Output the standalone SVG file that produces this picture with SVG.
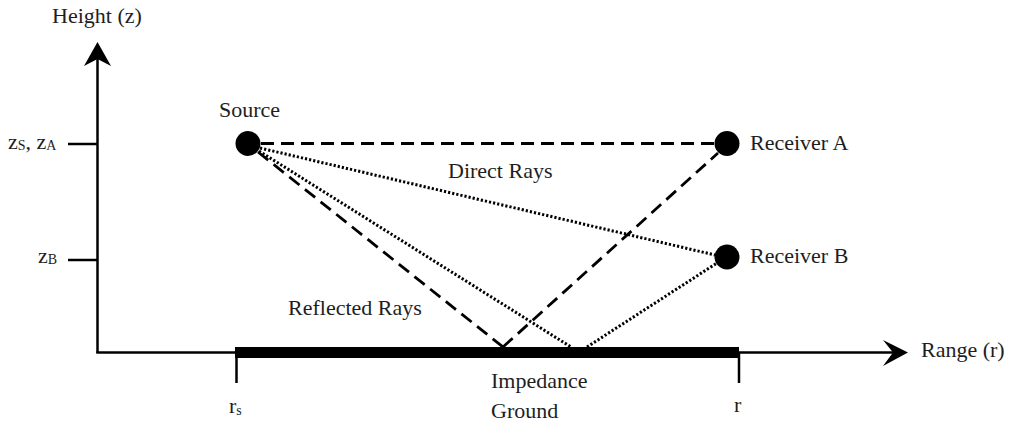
<svg xmlns="http://www.w3.org/2000/svg" width="1017" height="428" viewBox="0 0 1017 428">
<style>
text { font-family: "Liberation Serif", "Times New Roman", serif; font-size: 22px; fill: #1e1e1e; }
.sub { font-size: 14px; }
.axis { stroke: #000; stroke-width: 2.5; fill: none; }
.dash { stroke: #000; stroke-width: 2.8; stroke-dasharray: 13 7; fill: none; }
.dot { stroke: #000; stroke-width: 3; stroke-dasharray: 2.2 2; fill: none; }
.node { fill: #000; }
</style>
<rect width="1017" height="428" fill="#fff"/>
<g id="axes">
  <line class="axis" x1="97.5" y1="55" x2="97.5" y2="353"/>
  <line class="axis" x1="96.3" y1="352.5" x2="898" y2="352.5"/>
  <polygon points="97.5,42 84,66 97.5,59 111,66" fill="#000"/>
  <polygon points="908,352.5 883,340 893,352.5 883,366" fill="#000"/>
  <line class="axis" x1="68" y1="144" x2="97.5" y2="144"/>
  <line class="axis" x1="68" y1="260" x2="97.5" y2="260"/>
  <line class="axis" x1="236.5" y1="352" x2="236.5" y2="383"/>
  <line class="axis" x1="739" y1="352" x2="739" y2="383"/>
  <text x="52" y="23">Height (z)</text>
  <text x="921" y="357">Range (r)</text>
  <text x="8" y="149">z<tspan class="sub" dy="1">S</tspan><tspan dy="-1">, z</tspan><tspan class="sub" dy="1">A</tspan></text>
  <text x="38" y="263">z<tspan class="sub" dy="1">B</tspan></text>
  <text x="229" y="413">r<tspan class="sub" dy="2">s</tspan></text>
  <text x="734" y="412">r</text>
</g>
<g id="ground">
  <rect x="235" y="347" width="504" height="11" fill="#000"/>
  <text x="491" y="388">Impedance</text>
  <text x="491" y="418">Ground</text>
</g>
<g id="connectors">
  <line class="dash" x1="261" y1="143.5" x2="714" y2="143.5"/>
  <line class="dash" x1="258" y1="152" x2="503" y2="347"/>
  <line class="dash" x1="503" y1="347" x2="718" y2="153"/>
  <line class="dot" x1="260" y1="148" x2="715" y2="255"/>
  <line class="dot" x1="259" y1="151" x2="571" y2="347"/>
  <line class="dot" x1="587" y1="347" x2="717" y2="263"/>
  <text x="448" y="178">Direct Rays</text>
  <text x="288" y="315">Reflected Rays</text>
</g>
<g id="source">
  <circle class="node" cx="248" cy="143.5" r="12.5"/>
  <text x="219" y="117">Source</text>
</g>
<g id="receiverA">
  <circle class="node" cx="727" cy="143.5" r="12.5"/>
  <text x="750" y="150">Receiver A</text>
</g>
<g id="receiverB">
  <circle class="node" cx="727" cy="257" r="12.5"/>
  <text x="750" y="263">Receiver B</text>
</g>
</svg>
